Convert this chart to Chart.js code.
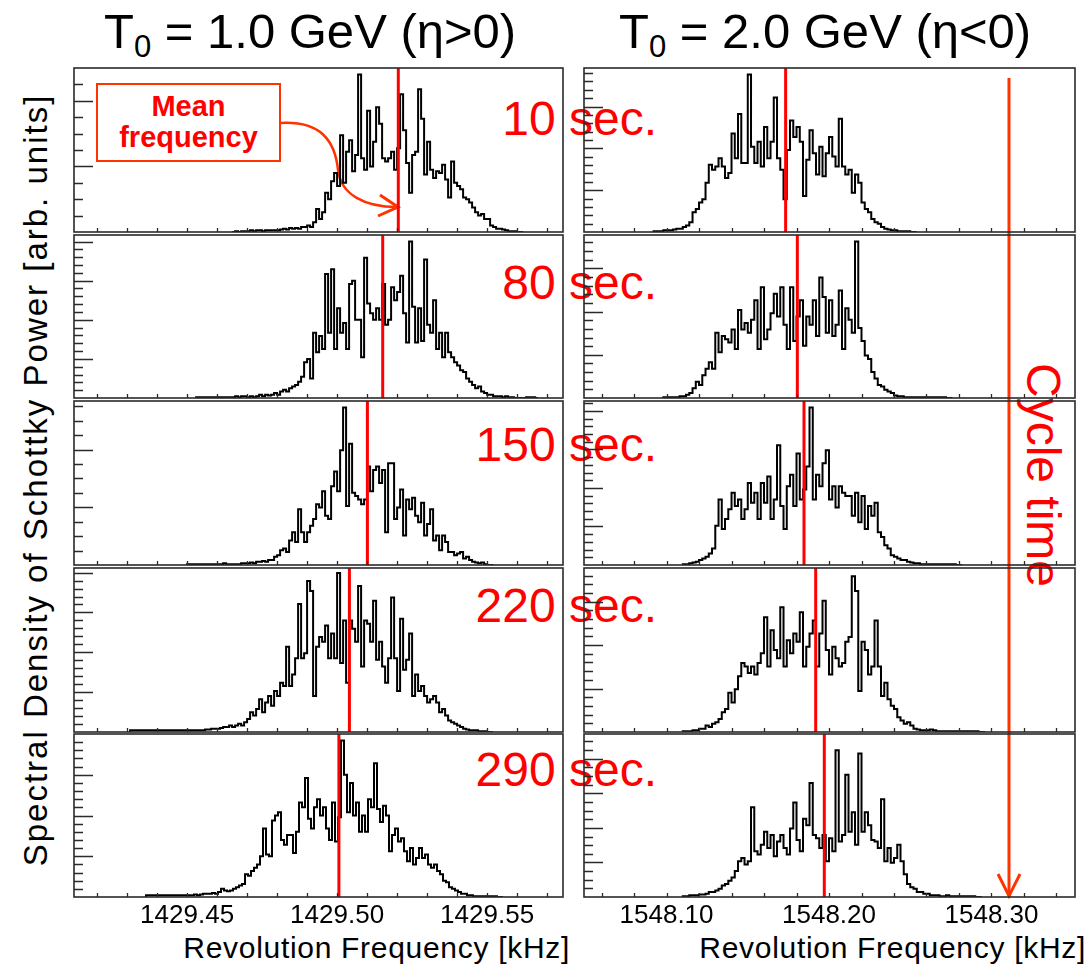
<!DOCTYPE html>
<html><head><meta charset="utf-8">
<script src="https://cdn.jsdelivr.net/npm/chart.js@4.4.0/dist/chart.umd.min.js"></script>
<style>
html,body{margin:0;padding:0;background:#fff;}
body{width:1092px;height:968px;overflow:hidden;position:relative;font-family:"Liberation Sans",Arial,sans-serif;}
canvas{position:absolute;}
.t{position:absolute;white-space:nowrap;line-height:1;}
.sec{color:#ff0000;font-size:48px;text-align:right;right:435px;}
.ttl{font-size:49px;color:#000;}
.ttl sub{font-size:31px;vertical-align:baseline;position:relative;top:9px;}
.xt{font-size:30px;letter-spacing:0.7px;color:#000;}
</style></head><body>

<div class="t ttl" style="left:104px;top:7px;">T<sub>0</sub> = 1.0 GeV (η&gt;0)</div>
<div class="t ttl" style="left:619px;top:7px;">T<sub>0</sub> = 2.0 GeV (η&lt;0)</div>

<div class="t" style="left:35px;top:480px;width:0;height:0;">
  <div style="position:absolute;left:0;top:0;transform:translate(-50%,-50%) rotate(-90deg);font-size:33px;letter-spacing:2px;white-space:nowrap;line-height:1;">Spectral Density of Schottky Power [arb. units]</div>
</div>

<div class="t xt" style="right:522px;top:933px;">Revolution Frequency [kHz]</div>
<div class="t xt" style="right:6px;top:933px;">Revolution Frequency [kHz]</div>

<div id="secs"></div>

<div style="position:absolute;left:96px;top:83px;width:181px;height:75px;border:2px solid #ff3300;"></div>
<div class="t" style="left:96px;top:91px;width:185px;text-align:center;font-weight:bold;font-size:29px;line-height:31px;color:#ff0000;">Mean<br>frequency</div>

<div class="t" style="left:1043px;top:475px;width:0;height:0;">
  <div style="position:absolute;left:0;top:0;transform:translate(-50%,-50%) rotate(90deg);font-size:48px;color:#ff0000;white-space:nowrap;line-height:1;">Cycle time</div>
</div>

<svg width="1092" height="968" style="position:absolute;left:0;top:0;pointer-events:none;">
  <path d="M281,123 C320,121 335,140 338,170 C341,195 365,207 397,207" fill="none" stroke="#ff3300" stroke-width="2.5"/>
  <path d="M380,195 L398,207 L378,216" fill="none" stroke="#ff3300" stroke-width="3"/>
  <line x1="1009" y1="78" x2="1009" y2="896" stroke="#ff3300" stroke-width="3"/>
  <path d="M998,874 L1009,896 L1020,874" fill="none" stroke="#ff3300" stroke-width="3"/>
</svg>

<script>
// ---------------- data ----------------
const timeLabels = ['10 sec.', '80 sec.', '150 sec.', '220 sec.', '290 sec.'];

const leftRange  = [1429.4123, 1429.5753];
const rightRange = [1548.0492, 1548.3514];
const leftTickLabels  = [1429.45, 1429.50, 1429.55];
const rightTickLabels = [1548.10, 1548.20, 1548.30];
const leftMinorTicks  = [1429.42,1429.43,1429.44,1429.45,1429.46,1429.47,1429.48,1429.49,1429.50,1429.51,1429.52,1429.53,1429.54,1429.55,1429.56,1429.57];
const rightMinorTicks = [1548.06,1548.08,1548.10,1548.12,1548.14,1548.16,1548.18,1548.20,1548.22,1548.24,1548.26,1548.28,1548.30,1548.32,1548.34];

const leftMeans  = [1429.5204, 1429.5152, 1429.5101, 1429.5041, 1429.5006];
const rightMeans = [1548.1733, 1548.1805, 1548.1846, 1548.1918, 1548.1971];

const leftStarts  = [1429.465, 1429.453, 1429.450, 1429.431, 1429.4363];
const rightStarts = [1548.092, 1548.098, 1548.110, 1548.110, 1548.110];
const leftBinWidth = 0.001;
const rightBinWidth = 0.002;

// left column: T0 = 1.0 GeV
const left10 = [0,0,0.5,0,0.5,0.5,0.5,1,0.5,1,1,0.5,1,1,1,1,1,1.5,2,1.5,2.5,2,2.5,2,3,3,4,3,6,14,8,12,24,20,31,36,28,59,30,49,56,37,47,96,45,38,74,40,55,76,66,45,43,45,49,38,51,84,62,42,24,47,49,87,69,35,55,38,33,37,36,41,32,21,43,30,28,26,21,20,18,15,12,10,11,8,8,4,3,2,2,1.5,1,0.5,0.5,0.5,0];
const left80 = [0.5,0.5,0.5,0.5,0.5,0.5,0.5,0.5,0.5,0.5,0.5,0.5,0.5,0.5,1,0.5,1,1,0.5,1,0.5,1,2,1,2,1.5,2,3,2,4,5,4,6,7,8,10,13,22,24,12,40,28,38,30,76,40,79,30,55,40,46,30,70,72,48,48,25,86,58,52,48,55,48,70,45,48,68,60,65,75,52,34,96,56,34,55,35,85,45,40,60,30,40,25,40,28,25,22,20,17,16,12,10,8,6,7,4,3,2,2,1,1,1,0.5,1,0.5,0.5,0,0,0,0,0.5,0.5,0.5];
const left150 = [0.5,0.5,0.5,0.5,0.5,0.5,0.5,0.5,0.5,0.5,0.5,0.5,0.5,1,0.5,0.5,0.5,0.5,0.5,1,1,1,1.5,1,2,2,2.5,2,3,3,5,6,9,10,8,15,20,14,34,20,14,20,24,28,37,35,45,30,28,48,57,45,70,96,36,74,44,42,40,37,40,60,45,58,60,50,58,20,62,62,28,35,46,18,40,34,41,30,26,38,18,25,34,15,18,9,18,14,8,8,6,7,8,4,5,3,2,1.5,1,1.5,0.5,0];
const left220 = [1,1,1,1,1,1,1,1,1,1,1,1,1,1,1,1,1,1,1,1,1,1,1,1,1,1,1.5,1.5,2,2,2,2.5,3,3,4,3,4,5,4,6,8,12,10,14,20,12,18,22,16,25,22,30,28,52,28,35,45,78,45,48,92,86,22,52,58,55,65,45,60,45,97,42,68,30,68,63,55,89,40,68,66,55,80,44,55,40,30,45,82,45,25,69,38,44,60,22,35,25,28,22,18,20,22,18,12,14,10,7,6,5,4,3,2,1.5,1,1,1,0.5,0.5,0.5,0];
const left290 = [1,1,1,1,1,1,1,1,1,1,1,1,1,1,1,1,1,1.5,1,1.5,2,2,2,2.5,2,3,5,4,3.5,4,5,6,7,8,14,13,16,18,20,25,42,26,25,47,50,52,35,32,38,38,27,40,58,55,73,48,42,55,60,50,55,42,35,58,34,49,96,75,52,70,50,58,40,50,40,60,55,82,54,46,56,50,28,38,42,34,36,28,22,30,20,24,30,24,26,20,18,20,16,14,10,9,6,5,4,3,2,2,1,1,0.5,0.5,0.5,0.5,0.5,0.5,0.5,0.5,0];

// right column: T0 = 2.0 GeV
const right10 = [0.5,0.5,0.5,0.5,1,1,1,1.5,2,2,3,4,6,12,14,18,20,30,41,38,40,45,40,33,36,60,45,72,42,42,96,52,42,55,40,64,45,55,82,45,38,20,50,68,58,64,55,22,44,62,48,35,52,34,48,58,46,40,69,40,35,38,24,35,30,18,14,12,8,6,5,3,2,1.5,1,1,0.5,0.5,0.5,0.5,0];
const right80 = [0.5,0.5,0.5,0.5,0.5,0.5,1,1,2,3,6,10,8,14,18,22,18,40,28,38,36,34,42,30,54,42,46,40,48,60,30,68,36,42,52,64,50,68,45,30,68,35,50,60,32,50,45,60,38,74,62,40,60,38,45,66,30,55,48,40,96,43,35,26,24,16,12,8,7,5,4,3,1.5,1,1,0.5,0.5,0.5,0.5,0.5,0.5,0.5,0.5,0.5,0.5,0.5,0.5,0.5,0];
const right150 = [0.5,0.5,0.5,1,1.5,2,3,4,5,7,10,24,40,22,28,34,44,36,40,28,34,50,38,44,28,50,38,54,28,40,73,36,22,48,55,36,68,40,46,60,96,40,55,48,62,70,40,48,35,48,44,42,42,30,44,26,42,22,36,30,38,20,17,12,10,6,5,4,3,3,2,1.5,1,1,0.5,0.5,0.5,0.5,0.5,0.5,0.5,0.5,0.5,0.5,0.5,0];
const right220 = [0.5,0.5,0.5,0.5,1,1,2,2,4,3,5,6,8,12,14,24,18,26,34,42,40,36,40,35,42,48,70,40,62,50,45,76,40,56,48,60,55,73,40,52,60,68,40,60,80,50,35,52,45,40,42,55,58,95,86,25,55,50,35,40,68,40,22,30,20,16,14,9,7,5,6,4,2,1.5,1,1,1,1.5,1,0.5,0.5,0.5,0.5,0.5,0.5,0.5,0.5,0.5,0.5,0.5,0.5,0.5,0];
const right290 = [0.5,0.5,0.5,1,1,1,1.5,1.5,2,3,3,4,5,7,8,10,12,16,22,24,20,22,55,28,26,32,40,30,38,25,34,38,30,26,42,58,35,28,48,44,70,38,36,30,38,22,36,28,90,34,38,75,40,52,32,88,40,52,44,35,34,30,60,22,30,21,24,32,22,14,8,6,5,3,3,2,2,1,1,1,0.5,0.5,1,0.5,0.5,0.5,0.5,0.5,0.5,0.5,0.5,0];

const leftSeries  = [left10, left80, left150, left220, left290];
const rightSeries = [right10, right80, right150, right220, right290];

// inner y-axis tick spacing per panel (arbitrary units, 0..100) and major-tick period
const leftYTicks  = [[10,4],[4.8,5],[8.8,4],[4.86,5],[5,5]];
const rightYTicks = [[5.1,5],[5.3,5],[4.7,5],[5.3,5],[5.3,4]];

// ---------------- layout ----------------
const colX = [74, 584];
const colW = [489, 491];
const rowTop = [68, 235, 401, 568, 734];
const rowH = [164, 163, 164, 164, 163];
const secBaselines = [136, 300, 462, 623, 787];

Chart.defaults.font.family = "'Liberation Sans', Arial, sans-serif";

const framePlugin = {
  id: 'frame',
  afterDraw(chart, args, o) {
    const ctx = chart.ctx, a = chart.chartArea, sx = chart.scales.x, sy = chart.scales.y;
    ctx.save();
    ctx.strokeStyle = '#2a2a2a';
    ctx.lineWidth = 1.3;
    ctx.beginPath();
    o.xTicks.forEach(v => {
      const p = Math.round(sx.getPixelForValue(v)) + 0.5;
      ctx.moveTo(p, a.bottom); ctx.lineTo(p, a.bottom - 4);
    });
    for (let k = 1; k * o.yStep < 99; k++) {
      const p = Math.round(sy.getPixelForValue(k * o.yStep)) + 0.5;
      const L = (k % o.yMajor === 0) ? 19 : 9;
      ctx.moveTo(a.left, p); ctx.lineTo(a.left + L, p);
    }
    ctx.stroke();
    ctx.lineWidth = 1.6;
    ctx.strokeRect(a.left, a.top, a.right - a.left, a.bottom - a.top);
    ctx.restore();
  }
};

function histPoints(start, w, vals) {
  const pts = [{x: start, y: 0}];
  vals.forEach((v, i) => pts.push({x: start + i * w, y: v}));
  pts.push({x: start + vals.length * w, y: 0});
  return pts;
}

function makePanel(col, row) {
  const isLeft = col === 0;
  const bottom = row === 4;
  const extra = bottom ? 40 : 0;
  const cv = document.createElement('canvas');
  const W = colW[col] + 4, H = rowH[row] + 4 + extra;
  cv.width = W; cv.height = H;
  cv.style.left = (colX[col] - 2) + 'px';
  cv.style.top = (rowTop[row] - 2) + 'px';
  cv.style.width = W + 'px'; cv.style.height = H + 'px';
  document.body.appendChild(cv);

  const vals = (isLeft ? leftSeries : rightSeries)[row];
  const start = (isLeft ? leftStarts : rightStarts)[row];
  const bw = isLeft ? leftBinWidth : rightBinWidth;
  const mean = (isLeft ? leftMeans : rightMeans)[row];
  const range = isLeft ? leftRange : rightRange;
  const tickLabels = isLeft ? leftTickLabels : rightTickLabels;
  const yt = (isLeft ? leftYTicks : rightYTicks)[row];

  const xScale = {
    type: 'linear', min: range[0], max: range[1], display: bottom,
    grid: { display: false, drawTicks: false }, border: { display: false },
    afterBuildTicks: s => { s.ticks = tickLabels.map(v => ({value: v})); },
    ticks: { color: '#000', font: { size: 26 }, padding: 3, maxRotation: 0, autoSkip: false,
             callback: v => Number(v).toFixed(2) }
  };
  if (bottom) xScale.afterFit = s => { s.height = 40; };

  new Chart(cv, {
    type: 'line',
    data: {
      datasets: [
        { data: [{x: mean, y: 0}, {x: mean, y: 100}], borderColor: '#ff0000', borderWidth: 3, pointRadius: 0, fill: false },
        { data: histPoints(start, bw, vals), borderColor: '#000000', borderWidth: 2, pointRadius: 0, fill: false, stepped: 'after', borderJoinStyle: 'miter' }
      ]
    },
    options: {
      responsive: false, maintainAspectRatio: false, animation: false, devicePixelRatio: 1,
      layout: { padding: 2 },
      plugins: {
        legend: { display: false }, tooltip: { enabled: false },
        frame: { xTicks: isLeft ? leftMinorTicks : rightMinorTicks, yStep: yt[0], yMajor: yt[1] }
      },
      scales: {
        x: xScale,
        y: { type: 'linear', min: 0, max: 100, display: false }
      }
    },
    plugins: [framePlugin]
  });
}

for (let r = 0; r < 5; r++) { makePanel(0, r); makePanel(1, r); }

const secs = document.getElementById('secs');
timeLabels.forEach((t, i) => {
  const d = document.createElement('div');
  d.className = 't sec';
  d.style.top = (secBaselines[i] - 40.6) + 'px';
  d.textContent = t;
  secs.appendChild(d);
});
</script>
</body></html>
